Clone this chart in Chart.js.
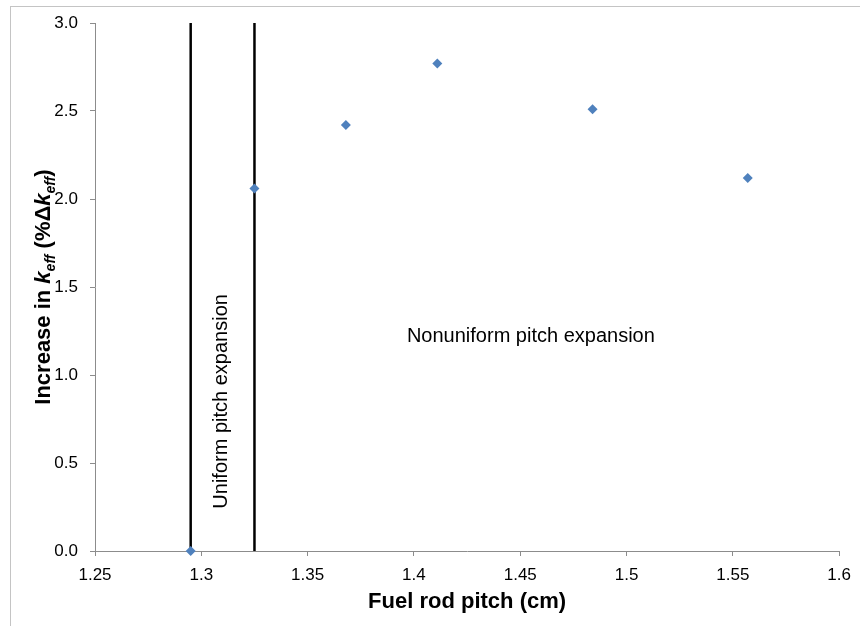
<!DOCTYPE html>
<html>
<head>
<meta charset="utf-8">
<script src="https://cdn.jsdelivr.net/npm/chart.js@4"></script>
<style>
  body { margin: 0; background: #fff; }
  #wrap { width: 860px; height: 626px; }
</style>
</head>
<body>
<div id="wrap"><canvas id="myChart" width="860" height="626"></canvas></div>
<script>
// data
const pitch = [1.295, 1.325, 1.368, 1.411, 1.484, 1.557];
const increase = [0, 2.06, 2.42, 2.77, 2.51, 2.12];
const boundaries = [1.295, 1.325];
const xTicks = [1.25, 1.3, 1.35, 1.4, 1.45, 1.5, 1.55, 1.6];
const yTicks = [0, 0.5, 1.0, 1.5, 2.0, 2.5, 3.0];

// where the two text notes sit, in data units
const uniformNote = { x: 1.3093, y: 0.85, text: "Uniform pitch expansion" };
const nonuniformNote = { x: 1.455, y: 1.216, text: "Nonuniform pitch expansion" };

const FONT = '"Liberation Sans", Arial, sans-serif';
const axisGray = "#8c8c8c";

const points = pitch.map((p, i) => ({ x: p, y: increase[i] }));
const lineSets = boundaries.map(b => ({
  data: [{ x: b, y: 0 }, { x: b, y: 3 }],
  showLine: true,
  borderColor: "#000",
  borderWidth: 2.5,
  pointRadius: 0,
  order: 2
}));

const extras = {
  id: "extras",
  beforeDraw(chart) {
    const ctx = chart.ctx;
    ctx.save();
    ctx.strokeStyle = "#c4c4c4";
    ctx.lineWidth = 1;
    ctx.strokeRect(10.5, 6.5, 900, 700);
    ctx.restore();
  },
  afterDraw(chart) {
    const ctx = chart.ctx;
    const xs = chart.scales.x, ys = chart.scales.y;
    ctx.save();
    ctx.fillStyle = "#000";

    // notes
    ctx.font = "20px " + FONT;
    ctx.textAlign = "center";
    ctx.textBaseline = "middle";
    ctx.fillText(nonuniformNote.text, xs.getPixelForValue(nonuniformNote.x), ys.getPixelForValue(nonuniformNote.y));
    ctx.save();
    ctx.translate(xs.getPixelForValue(uniformNote.x), ys.getPixelForValue(uniformNote.y));
    ctx.rotate(-Math.PI / 2);
    ctx.fillText(uniformNote.text, 0, 0);
    ctx.restore();

    // x title
    const area = chart.chartArea;
    ctx.font = "bold 22px " + FONT;
    ctx.fillText("Fuel rod pitch (cm)", (area.left + area.right) / 2, 602);

    // y title with italic k and subscript eff
    const parts = [
      { t: "Increase in ", f: "bold 22px " + FONT, dy: 0 },
      { t: "k", f: "italic bold 22px " + FONT, dy: 0 },
      { t: "eff", f: "italic bold 14px " + FONT, dy: 5 },
      { t: " (%\u0394", f: "bold 22px " + FONT, dy: 0 },
      { t: "k", f: "italic bold 22px " + FONT, dy: 0 },
      { t: "eff", f: "italic bold 14px " + FONT, dy: 5 },
      { t: ")", f: "bold 22px " + FONT, dy: 0 }
    ];
    let total = 0;
    parts.forEach(p => { ctx.font = p.f; p.w = ctx.measureText(p.t).width; total += p.w; });
    ctx.translate(42, (area.top + area.bottom) / 2);
    ctx.rotate(-Math.PI / 2);
    ctx.textAlign = "left";
    ctx.textBaseline = "alphabetic";
    let x = -total / 2;
    parts.forEach(p => {
      ctx.font = p.f;
      ctx.fillText(p.t, x, 8 + p.dy);
      x += p.w;
    });
    ctx.restore();
  }
};

new Chart(document.getElementById("myChart"), {
  type: "scatter",
  data: {
    datasets: [
      {
        data: points,
        pointStyle: "rectRot",
        pointRadius: 5,
        pointHoverRadius: 5,
        backgroundColor: "#4f81bd",
        borderColor: "#4f81bd",
        borderWidth: 0,
        clip: false,
        order: 1
      },
      ...lineSets
    ]
  },
  options: {
    responsive: false,
    animation: false,
    layout: { padding: { top: 23, right: 18, left: 0, bottom: 0 } },
    plugins: { legend: { display: false }, tooltip: { enabled: false } },
    scales: {
      x: {
        type: "linear",
        min: 1.25,
        max: 1.6,
        afterFit(scale) { scale.height = 75; },
        afterBuildTicks(scale) { scale.ticks = xTicks.map(v => ({ value: v })); },
        grid: { drawOnChartArea: false, drawTicks: true, tickLength: 5, color: axisGray },
        border: { color: axisGray, width: 1 },
        ticks: {
          padding: 9,
          color: "#000",
          font: { family: FONT, size: 17 },
          maxRotation: 0,
          callback: v => String(Math.round(v * 100) / 100)
        }
      },
      y: {
        type: "linear",
        min: 0,
        max: 3,
        afterFit(scale) { scale.width = 95; },
        afterBuildTicks(scale) { scale.ticks = yTicks.map(v => ({ value: v })); },
        grid: { drawOnChartArea: false, drawTicks: true, tickLength: 5, color: axisGray },
        border: { color: axisGray, width: 1 },
        ticks: {
          padding: 12,
          color: "#000",
          font: { family: FONT, size: 17 },
          callback: v => v.toFixed(1)
        }
      }
    }
  },
  plugins: [extras]
});
</script>
</body>
</html>
